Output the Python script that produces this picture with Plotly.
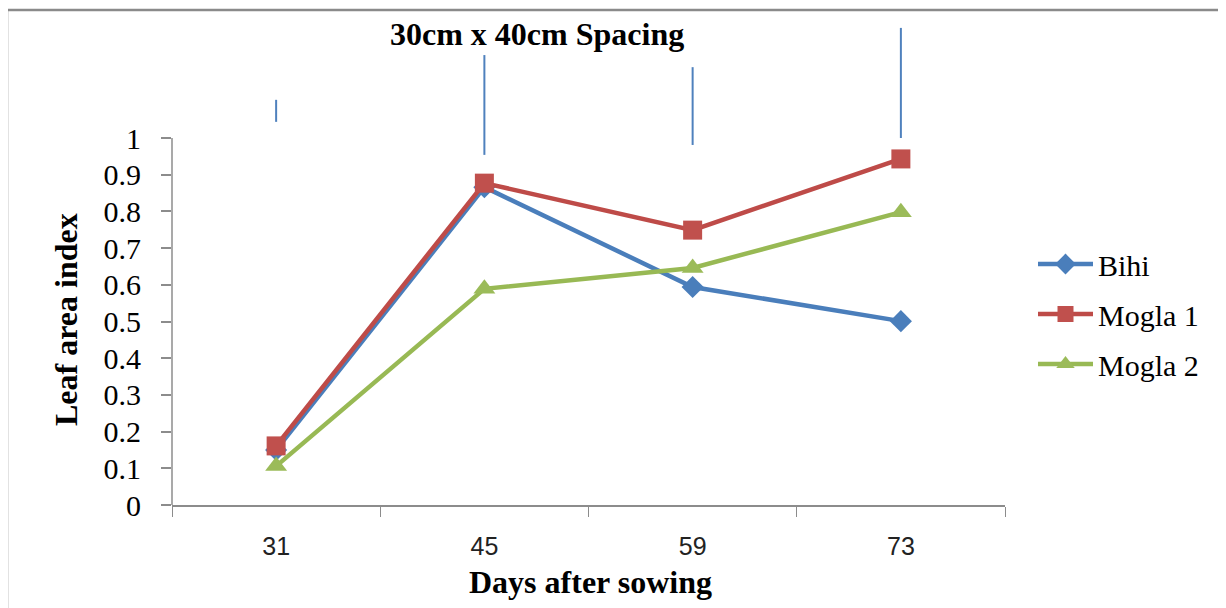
import plotly.graph_objects as go

days = ["31", "45", "59", "73"]
bihi = [0.15, 0.866, 0.594, 0.501]
mogla1 = [0.161, 0.877, 0.749, 0.943]
mogla2 = [0.106, 0.589, 0.646, 0.798]
bar_low = [1.044, 0.954, 0.981, 1.000]
bar_high = [1.104, 1.226, 1.193, 1.300]
y_ticks = [0, 0.1, 0.2, 0.3, 0.4, 0.5, 0.6, 0.7, 0.8, 0.9, 1]

# page offset (body margin) and geometry in reference pixels
OFF = 8
W, H = 1226 - OFF, 608 - OFF
L, R, TOP, B = 172, 1005, 20, 505
UNIT = 367.0  # pixels per 1.0 of leaf area index
YMAX = (B - TOP) / UNIT
pw, ph = R - L, B - TOP

def px(x):
    return (x - L) / pw

def py(y):
    return (B - y) / ph

serif = "Liberation Serif, Times New Roman, serif"
fig = go.Figure()

fig.add_trace(go.Scatter(
    x=days, y=bar_low, mode="markers", showlegend=False, hoverinfo="skip",
    marker=dict(size=1, color="rgba(0,0,0,0)"),
    error_y=dict(type="data", symmetric=False,
                 array=[h - l for h, l in zip(bar_high, bar_low)],
                 arrayminus=[0] * len(days), color="#4F81BD", thickness=2, width=0)))

fig.add_trace(go.Scatter(x=days, y=bihi, name="Bihi", mode="lines+markers",
                         legendgroup="a",
                         line=dict(color="#4A7EBB", width=4.5),
                         marker=dict(symbol="diamond", size=17, color="#4A7EBB"),
                         cliponaxis=False))
fig.add_trace(go.Scatter(x=days, y=mogla1, name="Mogla 1", mode="lines+markers",
                         legendgroup="b",
                         line=dict(color="#BE4B48", width=4.5),
                         marker=dict(symbol="square", size=19, color="#C0504D"),
                         cliponaxis=False))
fig.add_trace(go.Scatter(x=days, y=mogla2, name="Mogla 2", mode="lines+markers",
                         legendgroup="c",
                         line=dict(color="#98B954", width=4.5),
                         marker=dict(symbol="triangle-up", size=19, color="#9BBB59"),
                         cliponaxis=False))

fig.update_layout(
    width=W, height=H,
    margin=dict(l=L - OFF, r=W - (R - OFF), t=TOP - OFF, b=H - (B - OFF), pad=0),
    plot_bgcolor="white", paper_bgcolor="white",
    showlegend=True,
    legend=dict(x=px(1033), y=py(314), xanchor="left", yanchor="middle",
                font=dict(family=serif, size=30, color="black"),
                itemwidth=55,
                tracegroupgap=8, bgcolor="rgba(0,0,0,0)"),
    xaxis=dict(type="category", range=[-0.5, len(days) - 0.5],
               showgrid=False, showline=True, linecolor="#8C8C8C",
               linewidth=1.5, ticks="outside", tickson="boundaries", ticklen=10,
               tickcolor="#8C8C8C", ticklabelstandoff=18,
               tickfont=dict(family="Liberation Sans Narrow, Liberation Sans, sans-serif",
                             size=25, color="#222")),
    yaxis=dict(range=[0, YMAX], tickvals=y_ticks, showgrid=False, showline=False,
               ticks="outside", ticklen=10, tickwidth=1.5,
               tickcolor="#8C8C8C", zeroline=False, ticklabelstandoff=14,
               tickfont=dict(family=serif, size=30, color="black"),
               tickformat="~g"),
    annotations=[
        dict(text="<b>30cm x 40cm Spacing</b>", xref="paper", yref="paper",
             x=px(536.5), y=py(34), showarrow=False, xanchor="center", yanchor="middle",
             font=dict(family=serif, size=32, color="black")),
        dict(text="<b>Days after sowing</b>", xref="paper", yref="paper",
             x=px(590), y=py(582), showarrow=False, xanchor="center", yanchor="middle",
             font=dict(family=serif, size=32, color="black")),
        dict(text="<b>Leaf area index</b>", xref="paper", yref="paper", textangle=-90,
             x=px(66), y=py(320), showarrow=False, xanchor="center", yanchor="middle",
             font=dict(family=serif, size=32, color="black")),
    ],
    shapes=[
        dict(type="rect", xref="paper", yref="paper",
             x0=px(7), x1=px(1220), y0=py(620), y1=py(10),
             line=dict(color="#8A8A8A", width=2.5), layer="below"),
        dict(type="line", xref="paper", yref="y", x0=0, x1=0, y0=0, y1=y_ticks[-1],
             line=dict(color="#8C8C8C", width=1.5)),
    ],
)

fig.write_html("out.html")
